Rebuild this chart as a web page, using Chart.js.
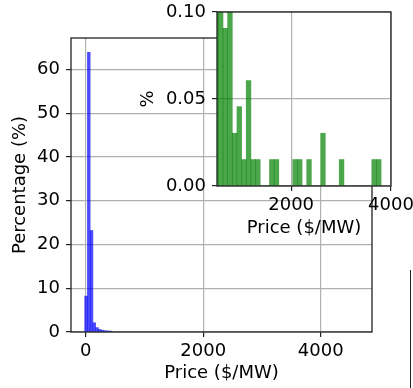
<!DOCTYPE html>
<html>
<head>
<meta charset="utf-8">
<script src="https://cdn.jsdelivr.net/npm/chart.js@4"></script>
<style>
  html, body { margin: 0; padding: 0; background: #fff; }
  #wrap { position: relative; width: 413px; height: 388px; overflow: hidden; }
  #mainChart { position: absolute; left: 0; top: 0; }
  #insetChart { position: absolute; left: 120px; top: 0; }
  #edge { position: absolute; left: 410px; top: 270px; width: 0; height: 118px; border-left: 1.5px solid #222; }
</style>
</head>
<body>
<div id="wrap">
  <canvas id="mainChart" width="413" height="388"></canvas>
  <canvas id="insetChart" width="293" height="250"></canvas>
  <div id="edge"></div>
</div>
<script>
// Гистограмма цен: основной график (мелкие бины)
const mainBinStart = -17;
const mainBinWidth = 46.6;
const mainPercent = [8.2, 63.9, 23.2, 2.1, 1.0, 0.6, 0.4, 0.3, 0.25, 0.2];
const mainXTicks = [0, 2000, 4000];
const mainYTicks = [0, 10, 20, 30, 40, 50, 60];

// Врезка: хвост распределения (бины шире, начиная с 5-го)
const insetBinStart = -17;
const insetBinWidth = 93.14;
const insetFirstBin = 5;
const insetPercent = [
    0.15, 0.12, 0.0906, 0.11, 0.0303, 0.0456, 0.0152, 0.0606, 0.0152, 0.0152,
    0, 0, 0.0152, 0.0152, 0, 0, 0, 0.0152, 0.0152, 0,
    0.0152, 0, 0, 0.0303, 0, 0, 0, 0.0152, 0, 0,
    0, 0, 0, 0, 0.0152, 0.0152
];
const insetXTicks = [2000, 4000];
const insetYTicks = [0, 0.05, 0.10];

const axisColor = '#222';
const gridColor = '#b0b0b0';

Chart.defaults.font.family = "'DejaVu Sans', sans-serif";
Chart.defaults.font.size = 18;
Chart.defaults.color = '#000';

function binPoints(start, width, first, values) {
    return values.map((v, i) => ({ x: start + (first + i + 0.5) * width, y: v }));
}

function fixedTicks(list) {
    return function(scale) {
        scale.ticks = list.map(v => ({ value: v }));
    };
}

function gridOpts() {
    return { color: gridColor, lineWidth: 1.2, tickLength: 5, tickColor: axisColor, tickWidth: 1.2, offset: false };
}

// Рамка вокруг области графика (все четыре стороны, как в matplotlib)
const framePlugin = {
    id: 'frame',
    beforeDraw(chart, args, opts) {
        if (!opts.fill) return;
        const a = chart.chartArea;
        chart.ctx.save();
        chart.ctx.fillStyle = opts.fill;
        chart.ctx.fillRect(a.left, a.top, a.right - a.left, a.bottom - a.top);
        chart.ctx.restore();
    },
    afterDraw(chart) {
        const a = chart.chartArea;
        const ctx = chart.ctx;
        ctx.save();
        ctx.strokeStyle = axisColor;
        ctx.lineWidth = 1.3;
        ctx.strokeRect(a.left, a.top, a.right - a.left, a.bottom - a.top);
        ctx.restore();
    }
};

function makeChart(id, cfg) {
    return new Chart(document.getElementById(id), {
        type: 'bar',
        data: {
            datasets: [{
                data: cfg.points,
                backgroundColor: cfg.color,
                borderWidth: 0,
                barPercentage: 1,
                categoryPercentage: 1
            }]
        },
        options: {
            responsive: false,
            animation: false,
            devicePixelRatio: 1,
            events: [],
            layout: { padding: cfg.padding },
            plugins: {
                legend: { display: false },
                tooltip: { enabled: false },
                frame: { fill: cfg.fill }
            },
            scales: {
                x: {
                    type: 'linear',
                    min: cfg.xMin,
                    max: cfg.xMax,
                    offset: false,
                    z: 1,
                    afterBuildTicks: fixedTicks(cfg.xTicks),
                    ticks: { padding: 3.5, maxRotation: 0, autoSkip: false, callback: v => String(v) },
                    grid: gridOpts(),
                    border: { display: false },
                    title: { display: true, text: 'Price ($/MW)', padding: { top: 0, bottom: cfg.xTitlePad } },
                    afterFit(s) {
                        s.height = cfg.xHeight;
                        s.paddingLeft = 0;
                        s.paddingRight = 0;
                    }
                },
                y: {
                    min: cfg.yMin,
                    max: cfg.yMax,
                    z: 1,
                    afterBuildTicks: fixedTicks(cfg.yTicks),
                    ticks: { padding: 6, callback: cfg.yFormat },
                    grid: gridOpts(),
                    border: { display: false },
                    title: { display: true, text: cfg.yTitle, padding: { top: cfg.yTitlePad, bottom: 0 } },
                    afterFit(s) {
                        s.width = cfg.yWidth;
                        s.paddingTop = 0;
                        s.paddingBottom = 0;
                    }
                }
            }
        },
        plugins: [framePlugin]
    });
}

makeChart('mainChart', {
    points: binPoints(mainBinStart, mainBinWidth, 0, mainPercent),
    color: 'rgba(0, 0, 255, 0.7)',
    fill: null,
    padding: { left: 0, right: 41, top: 38, bottom: 0 },
    xMin: -250, xMax: 4873, xTicks: mainXTicks, xHeight: 56, xTitlePad: 4.2,
    yMin: 0, yMax: 67.2, yTicks: mainYTicks, yWidth: 71, yTitlePad: 9.2,
    yTitle: 'Percentage (%)',
    yFormat: v => String(v)
});

makeChart('insetChart', {
    points: binPoints(insetBinStart, insetBinWidth, insetFirstBin, insetPercent),
    color: 'rgba(0, 128, 0, 0.7)',
    fill: '#ffffff',
    padding: { left: 0, right: 22, top: 12, bottom: 0 },
    xMin: 515, xMax: 4000, xTicks: insetXTicks, xHeight: 64, xTitlePad: 11.2,
    yMin: 0, yMax: 0.1, yTicks: insetYTicks, yWidth: 97, yTitlePad: 17.7,
    yTitle: '%',
    yFormat: v => v.toFixed(2)
});
</script>
</body>
</html>
